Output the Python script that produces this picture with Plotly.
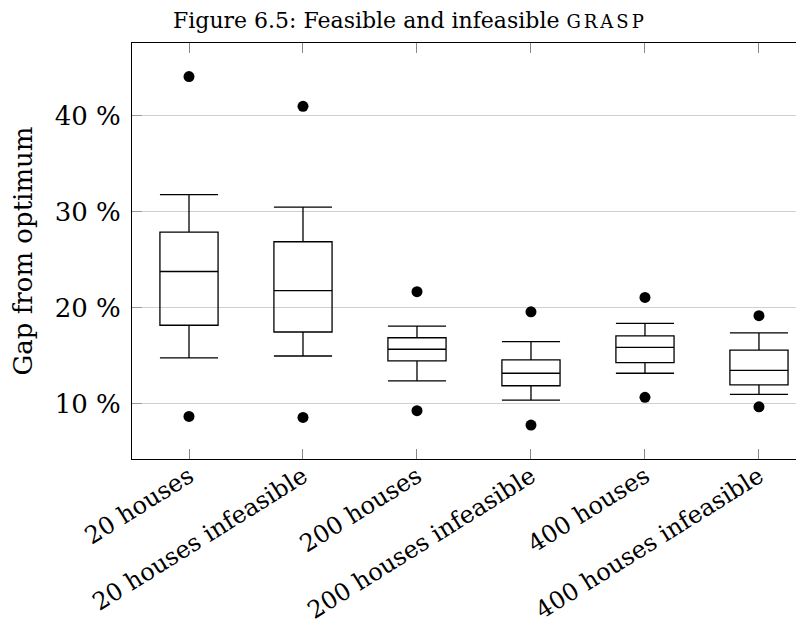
import plotly.graph_objects as go

categories = ["20 houses", "20 houses infeasible", "200 houses", "200 houses infeasible",
              "400 houses", "400 houses infeasible"]
lower_whisker = [14.8, 15.0, 12.4, 10.4, 13.2, 11.0]
q1 = [18.2, 17.5, 14.5, 11.9, 14.3, 12.0]
median = [23.8, 21.8, 15.7, 13.2, 15.9, 13.5]
q3 = [27.9, 26.9, 16.9, 14.6, 17.1, 15.6]
upper_whisker = [31.8, 30.5, 18.1, 16.5, 18.4, 17.4]
outlier_high = [44.1, 41.0, 21.7, 19.6, 21.1, 19.2]
outlier_low = [8.7, 8.6, 9.3, 7.8, 10.7, 9.7]

y_ticks = [10, 20, 30, 40]
y_ticktext = ["10 %", "20 %", "30 %", "40 %"]

FONT = "DejaVu Serif"

fig = go.Figure()
fig.add_trace(go.Box(
    x=categories, q1=q1, median=median, q3=q3,
    lowerfence=lower_whisker, upperfence=upper_whisker,
    width=0.51, whiskerwidth=1,
    line=dict(color="black", width=1.3),
    fillcolor="rgba(0,0,0,0)",
    boxpoints=False, showlegend=False, hoverinfo="skip",
))
fig.add_trace(go.Scatter(
    x=categories + categories, y=outlier_high + outlier_low,
    mode="markers", marker=dict(color="black", size=11),
    showlegend=False, hoverinfo="skip", cliponaxis=False,
))

# page body has an 8px margin, so the figure is offset by 8px
fig.update_layout(
    width=804, height=630,
    margin=dict(l=124, r=8, t=35, b=179, autoexpand=False),
    plot_bgcolor="white", paper_bgcolor="white",
    font=dict(family=FONT, color="black", size=24),
    annotations=[dict(
        text='Figure 6.5: Feasible and infeasible <span style="font-size:18px;letter-spacing:3px">GRASP</span>',
        xref="paper", yref="paper", x=(410 - 132) / 672, y=1 + (43 - 21) / 416,
        xanchor="center", yanchor="middle", showarrow=False,
        font=dict(family=FONT, size=22, color="black"),
    )],
)
fig.update_xaxes(
    type="category", range=[-0.5, 5.395], automargin=False,
    showline=True, linecolor="black", linewidth=1.2, mirror="ticks",
    ticks="inside", ticklen=10, tickcolor="#888888", tickwidth=1,
    tickangle=-32, ticklabelstandoff=-7,
    tickfont=dict(family=FONT, size=24, color="black"),
    showgrid=False, zeroline=False,
)
fig.update_yaxes(
    range=[4.27, 47.6], automargin=False,
    tickvals=y_ticks, ticktext=y_ticktext,
    showline=True, linecolor="black", linewidth=1.2,
    ticks="inside", ticklen=10, tickcolor="#999999", tickwidth=1,
    ticklabelstandoff=5,
    tickfont=dict(family=FONT, size=26, color="black"),
    showgrid=True, gridcolor="#d0d0d0", gridwidth=1, zeroline=False,
    title=dict(text="Gap from optimum", standoff=18, font=dict(family=FONT, size=26, color="black")),
)

fig.write_html("out.html", config={"displayModeBar": False})
